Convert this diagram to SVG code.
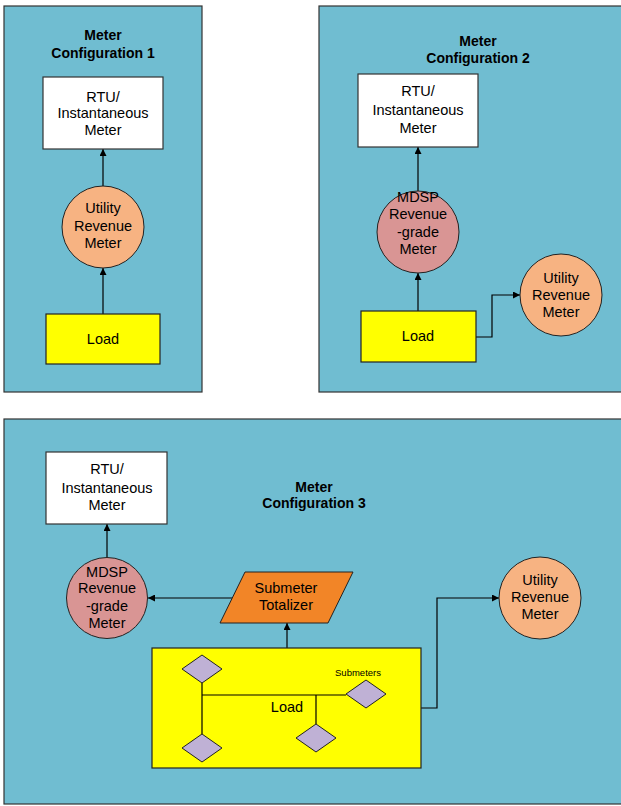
<svg xmlns="http://www.w3.org/2000/svg" width="621" height="806" viewBox="0 0 621 806">
<style>
.panel{fill:#70bdd1;stroke:#333;stroke-width:1.2}
.box{fill:#fff;stroke:#333;stroke-width:1.2}
.load{fill:#ffff00;stroke:#222;stroke-width:1.2}
.util{fill:#f7b382;stroke:#222;stroke-width:1}
.mdsp{fill:#d99594;stroke:#222;stroke-width:1}
.tot{fill:#f28527;stroke:#222;stroke-width:1}
.dia{fill:#bfb1d5;stroke:#222;stroke-width:1}
.t{font-family:"Liberation Sans",Arial,sans-serif;font-size:14.5px;fill:#000;text-anchor:middle}
.b{font-weight:bold;font-size:14px}
.s{font-size:9.5px}
.c{fill:none;stroke:#000;stroke-width:1.2}
.ca{fill:none;stroke:#000;stroke-width:1.2;marker-end:url(#ah)}
</style>
<defs>
<marker id="ah" viewBox="0 0 10 10" refX="10" refY="5" markerWidth="7" markerHeight="7" orient="auto" markerUnits="userSpaceOnUse">
<path d="M0,0 L10,5 L0,10 z" fill="#000"/>
</marker>
</defs>
<g id="panel1">
<rect class="panel" x="4" y="6" width="198" height="386"/>
<text class="t b" x="103" y="40">Meter</text>
<text class="t b" x="103" y="58">Configuration 1</text>
</g>
<g id="panel2">
<rect class="panel" x="319" y="6" width="310" height="386"/>
<text class="t b" x="478" y="46">Meter</text>
<text class="t b" x="478" y="63">Configuration 2</text>
</g>
<g id="panel3">
<rect class="panel" x="4" y="419" width="625" height="385"/>
<text class="t b" x="314" y="492">Meter</text>
<text class="t b" x="314" y="508">Configuration 3</text>
</g>
<g id="connectors">
<path class="ca" d="M103,314 V268"/>
<path class="ca" d="M103,186 V149"/>
<path class="ca" d="M418,311 V273"/>
<path class="ca" d="M418,191 V147"/>
<path class="ca" d="M476,337 H492 V295 H520"/>
<path class="ca" d="M107,557 V524"/>
<path class="ca" d="M233,598 H148"/>
<path class="ca" d="M287,695 V623"/>
<path class="ca" d="M421,708 H437 V598 H499"/>
</g>
<g id="p1-rtu">
<rect class="box" x="43" y="77" width="120" height="72"/>
<text class="t" x="103" y="102">RTU/</text>
<text class="t" x="103" y="118">Instantaneous</text>
<text class="t" x="103" y="135">Meter</text>
</g>
<g id="p1-utility">
<circle class="util" cx="103" cy="227" r="41"/>
<text class="t" x="103" y="213">Utility</text>
<text class="t" x="103" y="231">Revenue</text>
<text class="t" x="103" y="248">Meter</text>
</g>
<g id="p1-load">
<rect class="load" x="46" y="314" width="114" height="50"/>
<text class="t" x="103" y="344">Load</text>
</g>
<g id="p2-rtu">
<rect class="box" x="358" y="74" width="120" height="73"/>
<text class="t" x="418" y="96">RTU/</text>
<text class="t" x="418" y="115">Instantaneous</text>
<text class="t" x="418" y="133">Meter</text>
</g>
<g id="p2-mdsp">
<circle class="mdsp" cx="418" cy="232" r="41"/>
<text class="t" x="418" y="202">MDSP</text>
<text class="t" x="418" y="219">Revenue</text>
<text class="t" x="418" y="237">-grade</text>
<text class="t" x="418" y="254">Meter</text>
</g>
<g id="p2-load">
<rect class="load" x="361" y="311" width="115" height="51"/>
<text class="t" x="418" y="341">Load</text>
</g>
<g id="p2-utility">
<circle class="util" cx="561" cy="295" r="41"/>
<text class="t" x="561" y="283">Utility</text>
<text class="t" x="561" y="300">Revenue</text>
<text class="t" x="561" y="317">Meter</text>
</g>
<g id="p3-rtu">
<rect class="box" x="46" y="452" width="121" height="72"/>
<text class="t" x="107" y="474">RTU/</text>
<text class="t" x="107" y="493">Instantaneous</text>
<text class="t" x="107" y="510">Meter</text>
</g>
<g id="p3-mdsp">
<circle class="mdsp" cx="107" cy="598" r="40.5"/>
<text class="t" x="107" y="577">MDSP</text>
<text class="t" x="107" y="593">Revenue</text>
<text class="t" x="107" y="611">-grade</text>
<text class="t" x="107" y="628">Meter</text>
</g>
<g id="p3-totalizer">
<polygon class="tot" points="245,572 353,572 328,623 220,623"/>
<text class="t" x="286" y="593">Submeter</text>
<text class="t" x="286" y="610">Totalizer</text>
</g>
<g id="p3-load">
<rect class="load" x="152" y="648" width="269" height="120"/>
<path class="c" d="M202,695 H346 M202,683 V734 M316,695 V724"/>
<text class="t" x="287" y="712">Load</text>
<text class="t s" x="358" y="676">Submeters</text>
<polygon class="dia" points="202,655 222,669 202,683 182,669"/>
<polygon class="dia" points="202,734 222,748 202,762 182,748"/>
<polygon class="dia" points="366,680 386,694 366,708 346,694"/>
<polygon class="dia" points="316,724 336,738 316,752 296,738"/>
</g>
<g id="p3-utility">
<circle class="util" cx="540" cy="598" r="41"/>
<text class="t" x="540" y="585">Utility</text>
<text class="t" x="540" y="602">Revenue</text>
<text class="t" x="540" y="619">Meter</text>
</g>
</svg>
